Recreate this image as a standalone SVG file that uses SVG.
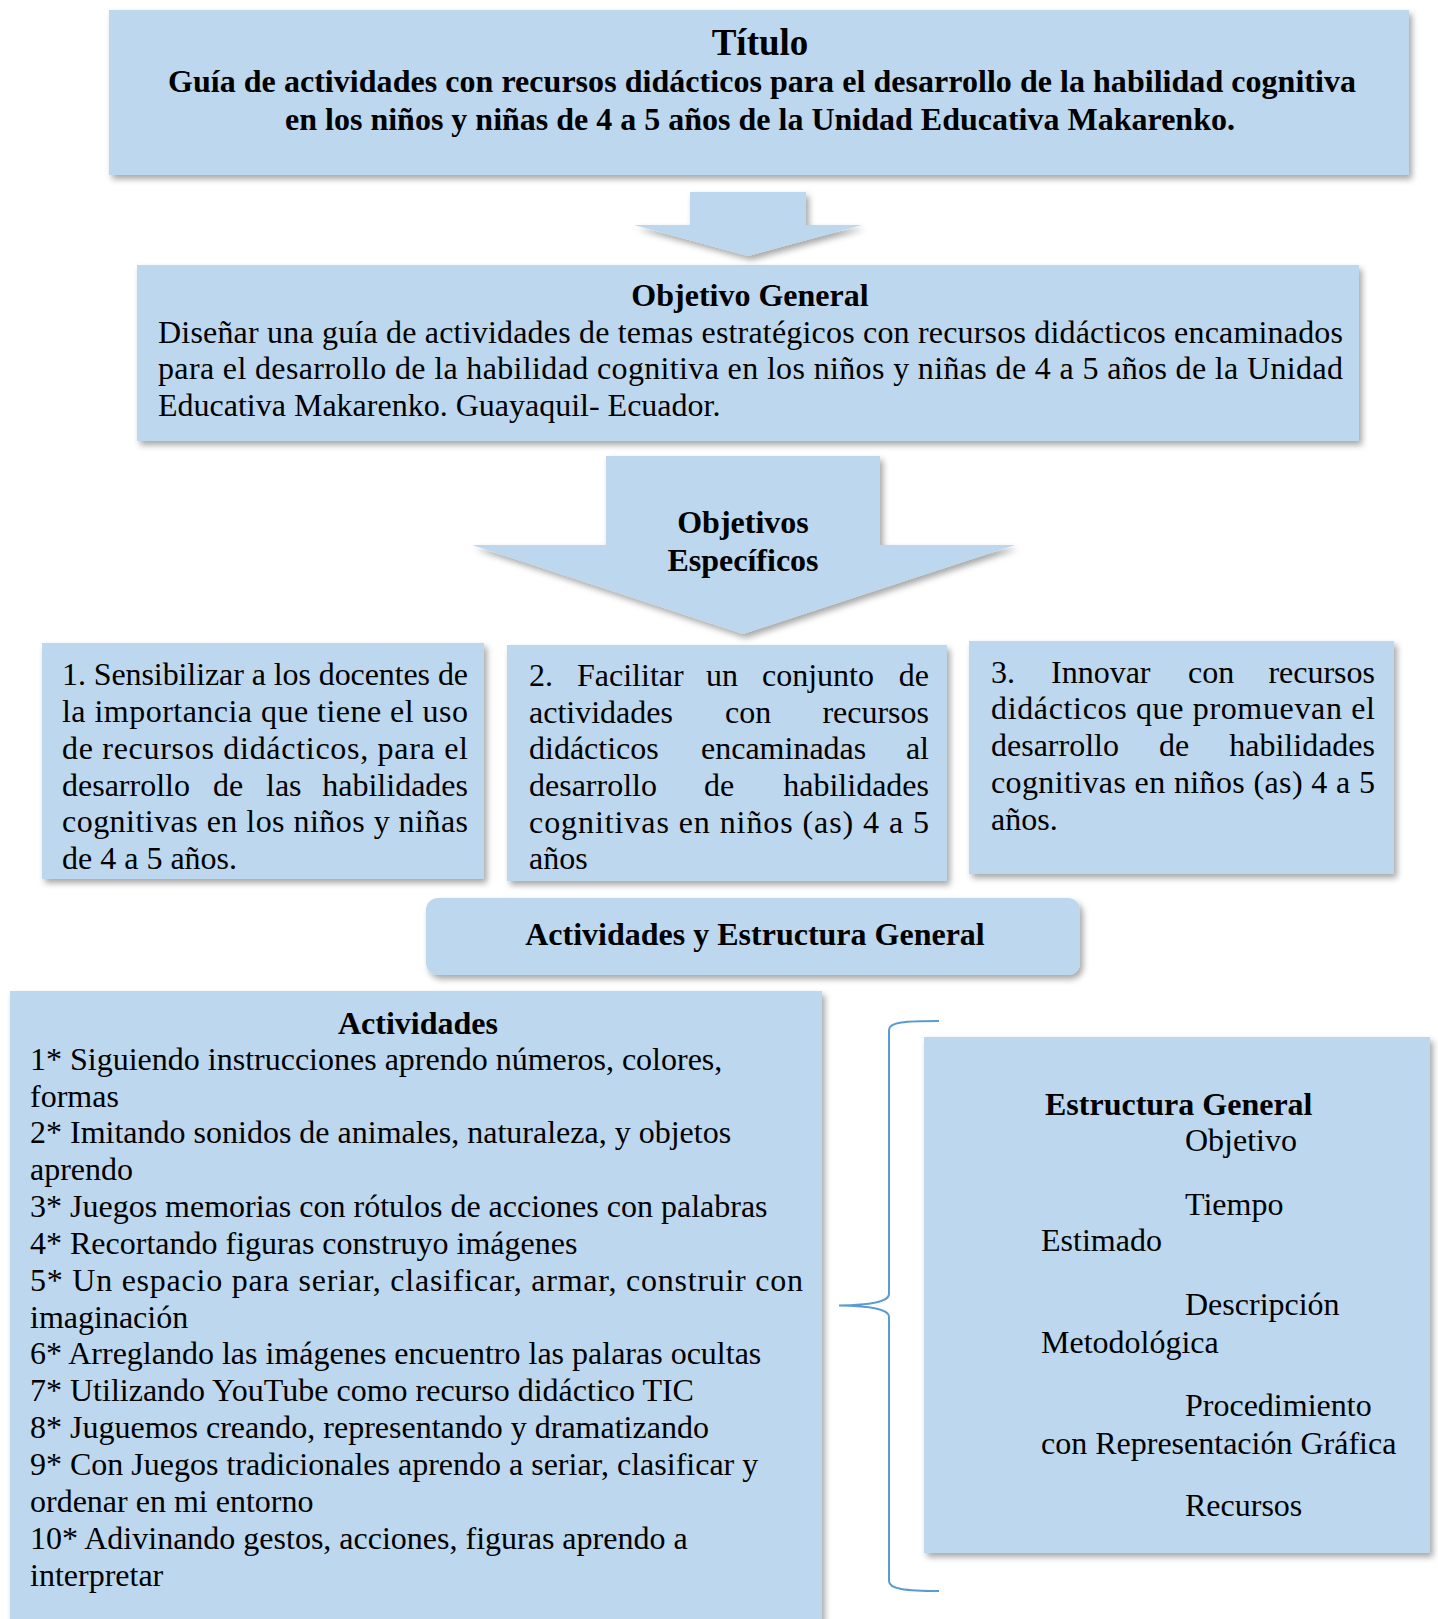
<svg xmlns="http://www.w3.org/2000/svg" width="1438" height="1619" viewBox="0 0 1438 1619">
<style>
.box{fill:#BDD7EE;filter:url(#sh)}
.t{font-family:"Liberation Serif","Times New Roman",serif;font-size:32px;fill:#000}
.b{font-weight:bold}
.m{text-anchor:middle}
.e{text-anchor:end}
.brace{fill:none;stroke:#5B9BD5;stroke-width:2}
</style>
<defs>
<filter id="sh" x="-5%" y="-10%" width="115%" height="130%">
<feDropShadow dx="3" dy="4" stdDeviation="3" flood-color="#000" flood-opacity="0.35"/>
</filter>
</defs>
<rect width="1438" height="1619" fill="#fff"/>

<g id="titulo">
<rect class="box" x="109" y="10" width="1300" height="165"/>
<text class="t b m" x="760" y="55" style="font-size:37px">Título</text>
<text class="t b m" x="762" y="92" textLength="1188" lengthAdjust="spacing">Guía de actividades con recursos didácticos para el desarrollo de la habilidad cognitiva</text>
<text class="t b m" x="760" y="130">en los niños y niñas de 4 a 5 años de la Unidad Educativa Makarenko.</text>
</g>

<g id="connectors">
<polygon class="box" points="690,192 806,192 806,225 862,225 748,256 634,225 690,225"/>
<path class="brace" d="M939 1021 C905 1021 889 1022 889 1030 L889 1294 C889 1302 870 1305 839 1305.5 C870 1306 889 1309 889 1317 L889 1581 C889 1589 905 1591 939 1591"/>
</g>

<g id="objetivo-general">
<rect class="box" x="137" y="265" width="1222" height="176"/>
<text class="t b m" x="750" y="306">Objetivo General</text>
<text class="t" x="158" y="343" textLength="1185" lengthAdjust="spacing">Diseñar una guía de actividades de temas estratégicos con recursos didácticos encaminados</text>
<text class="t" x="158" y="379" textLength="1185" lengthAdjust="spacing">para el desarrollo de la habilidad cognitiva en los niños y niñas de 4 a 5 años de la Unidad</text>
<text class="t" x="158" y="416">Educativa Makarenko. Guayaquil- Ecuador.</text>
</g>

<g id="objetivos-especificos">
<polygon class="box" points="606,456 880,456 880,545 1015,545 743,634 472,545 606,545"/>
<text class="t b m" x="743" y="533">Objetivos</text>
<text class="t b m" x="743" y="571">Específicos</text>
</g>

<g id="objetivo-1">
<rect class="box" x="42" y="643" width="442" height="236"/>
<text class="t" x="62" y="685" textLength="406" lengthAdjust="spacing">1. Sensibilizar a los docentes de</text>
<text class="t" x="62" y="722" textLength="406" lengthAdjust="spacing">la importancia que tiene el uso</text>
<text class="t" x="62" y="759" textLength="406" lengthAdjust="spacing">de recursos didácticos, para el</text>
<text class="t" x="62" y="796">desarrollo</text>
<text class="t" x="213" y="796">de</text>
<text class="t" x="266" y="796">las</text>
<text class="t e" x="468" y="796">habilidades</text>
<text class="t" x="62" y="832" textLength="406" lengthAdjust="spacing">cognitivas en los niños y niñas</text>
<text class="t" x="62" y="869">de 4 a 5 años.</text>
</g>

<g id="objetivo-2">
<rect class="box" x="507" y="645" width="440" height="236"/>
<text class="t" x="529" y="686">2.</text>
<text class="t" x="577" y="686">Facilitar</text>
<text class="t" x="706" y="686">un</text>
<text class="t" x="762" y="686">conjunto</text>
<text class="t e" x="929" y="686">de</text>
<text class="t" x="529" y="723">actividades</text>
<text class="t" x="725" y="723">con</text>
<text class="t e" x="929" y="723">recursos</text>
<text class="t" x="529" y="759">didácticos</text>
<text class="t" x="701" y="759">encaminadas</text>
<text class="t e" x="929" y="759">al</text>
<text class="t" x="529" y="796">desarrollo</text>
<text class="t" x="704" y="796">de</text>
<text class="t e" x="929" y="796">habilidades</text>
<text class="t" x="529" y="833" textLength="400" lengthAdjust="spacing">cognitivas en niños (as) 4 a 5</text>
<text class="t" x="529" y="869">años</text>
</g>

<g id="objetivo-3">
<rect class="box" x="969" y="641" width="425" height="233"/>
<text class="t" x="991" y="683">3.</text>
<text class="t" x="1051" y="683">Innovar</text>
<text class="t" x="1188" y="683">con</text>
<text class="t e" x="1375" y="683">recursos</text>
<text class="t" x="991" y="719" textLength="384" lengthAdjust="spacing">didácticos que promuevan el</text>
<text class="t" x="991" y="756">desarrollo</text>
<text class="t" x="1159" y="756">de</text>
<text class="t e" x="1375" y="756">habilidades</text>
<text class="t" x="991" y="793" textLength="384" lengthAdjust="spacing">cognitivas en niños (as) 4 a 5</text>
<text class="t" x="991" y="830">años.</text>
</g>

<g id="actividades-estructura">
<rect class="box" x="426" y="898" width="654" height="77" rx="12" ry="12"/>
<text class="t b m" x="755" y="945">Actividades y Estructura General</text>
</g>

<g id="actividades">
<rect class="box" x="10" y="991" width="812" height="660"/>
<text class="t b m" x="418" y="1034">Actividades</text>
<text class="t" x="30" y="1070">1* Siguiendo instrucciones aprendo números, colores,</text>
<text class="t" x="30" y="1107">formas</text>
<text class="t" x="30" y="1143">2* Imitando sonidos de animales, naturaleza, y objetos</text>
<text class="t" x="30" y="1180">aprendo</text>
<text class="t" x="30" y="1217">3* Juegos memorias con rótulos de acciones con palabras</text>
<text class="t" x="30" y="1254">4* Recortando figuras construyo imágenes</text>
<text class="t" x="30" y="1291" textLength="773" lengthAdjust="spacing">5* Un espacio para seriar, clasificar, armar, construir con</text>
<text class="t" x="30" y="1328">imaginación</text>
<text class="t" x="30" y="1364">6* Arreglando las imágenes encuentro las palaras ocultas</text>
<text class="t" x="30" y="1401">7* Utilizando YouTube como recurso didáctico TIC</text>
<text class="t" x="30" y="1438">8* Juguemos creando, representando y dramatizando</text>
<text class="t" x="30" y="1475">9* Con Juegos tradicionales aprendo a seriar, clasificar y</text>
<text class="t" x="30" y="1512">ordenar en mi entorno</text>
<text class="t" x="30" y="1549">10* Adivinando gestos, acciones, figuras aprendo a</text>
<text class="t" x="30" y="1586">interpretar</text>
</g>

<g id="estructura-general">
<rect class="box" x="924" y="1037" width="506" height="516"/>
<text class="t b" x="1045" y="1115">Estructura General</text>
<text class="t" x="1185" y="1151">Objetivo</text>
<text class="t" x="1185" y="1215">Tiempo</text>
<text class="t" x="1041" y="1251">Estimado</text>
<text class="t" x="1185" y="1315">Descripción</text>
<text class="t" x="1041" y="1353">Metodológica</text>
<text class="t" x="1185" y="1416">Procedimiento</text>
<text class="t" x="1041" y="1454">con Representación Gráfica</text>
<text class="t" x="1185" y="1516">Recursos</text>
</g>
</svg>
